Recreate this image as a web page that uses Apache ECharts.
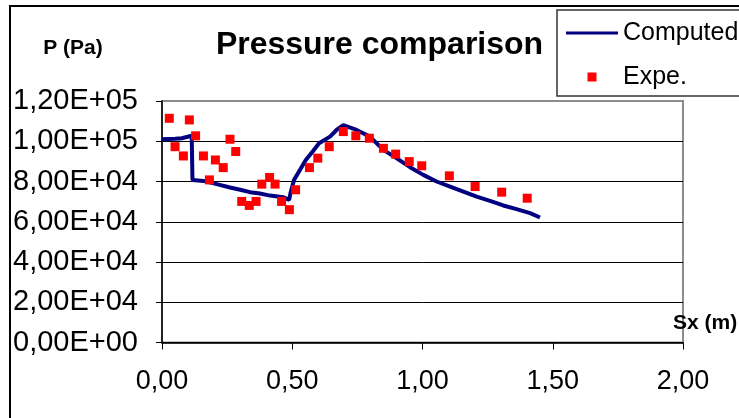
<!DOCTYPE html>
<html>
<head>
<meta charset="utf-8">
<script src="https://cdn.jsdelivr.net/npm/echarts@6/dist/echarts.min.js"></script>
<style>
  html, body { margin: 0; padding: 0; background: #fff; }
  #chart { width: 739px; height: 418px; }
</style>
</head>
<body>
<div id="chart"></div>
<script>
// Computed pressure along the duct (position in m, pressure in Pa)
const computedX = [0.00, 0.05, 0.076, 0.114, 0.117, 0.159, 0.21, 0.261, 0.30, 0.338, 0.376, 0.415, 0.465, 0.488,
  0.494, 0.507, 0.53, 0.552, 0.58, 0.603, 0.645, 0.67, 0.696, 0.747, 0.798, 0.85, 0.90, 0.952, 1.003, 1.054,
  1.106, 1.157, 1.208, 1.259, 1.31, 1.361, 1.413, 1.451];
const computedP = [101000, 101200, 101500, 102700, 80800, 80300, 78700, 77000, 75900, 74700, 74000, 73000, 72200, 70900,
  74700, 80800, 85800, 90700, 95200, 99000, 102300, 105600, 108000, 105600, 102300, 95700, 91600, 87100, 83300, 80000,
  77500, 75000, 72500, 70400, 68100, 66300, 64300, 62100];

// Experimental measurements
const expeX = [0.028, 0.105, 0.05, 0.082, 0.129, 0.159, 0.182, 0.205, 0.235, 0.261, 0.283, 0.306, 0.335, 0.361,
  0.383, 0.413, 0.434, 0.459, 0.489, 0.513, 0.566, 0.598, 0.642, 0.696, 0.744, 0.796, 0.85, 0.897, 0.949, 0.997,
  1.103, 1.202, 1.304, 1.402];
const expeP = [111400, 110600, 97300, 92700, 102700, 92700, 80800, 90700, 86900, 101000, 94900, 70100, 68100, 70100,
  78700, 82000, 78700, 70100, 66000, 75900, 86900, 91600, 97300, 104800, 102700, 101500, 96500, 93600, 89900, 87800,
  82800, 77500, 74700, 71700];

// Axis tick labels (decimal comma notation)
const xTickLabels = ['0,00', '0,50', '1,00', '1,50', '2,00'];
const yTickLabels = ['0,00E+00', '2,00E+04', '4,00E+04', '6,00E+04', '8,00E+04', '1,00E+05', '1,20E+05'];

const FONT = '"Liberation Sans", Arial, sans-serif';
const zip = (xs, ys) => xs.map((x, i) => [x, ys[i]]);

const chart = echarts.init(document.getElementById('chart'), null, { renderer: 'canvas' });

chart.setOption({
  animation: false,
  backgroundColor: '#fff',
  grid: {
    left: 162, right: 56, top: 101, bottom: 75.5,
    show: true, borderColor: '#8c8c8c', borderWidth: 2, backgroundColor: 'transparent'
  },
  graphic: [
    { type: 'rect', z: -10, silent: true,
      shape: { x: 10, y: 6, width: 900, height: 600 },
      style: { fill: 'none', stroke: '#000', lineWidth: 2 } },
    { type: 'text', silent: true,
      style: { text: 'Pressure comparison', x: 379.5, y: 45, align: 'center', verticalAlign: 'middle',
               font: 'bold 32px ' + FONT, fill: '#000' } },
    { type: 'text', silent: true,
      style: { text: 'P (Pa)', x: 73, y: 48, align: 'center', verticalAlign: 'middle',
               font: 'bold 21px ' + FONT, fill: '#000' } },
    { type: 'text', silent: true,
      style: { text: 'Sx (m)', x: 673, y: 323, align: 'left', verticalAlign: 'middle',
               font: 'bold 21px ' + FONT, fill: '#000' } }
  ],
  legend: {
    orient: 'vertical',
    left: 557, top: 10,
    padding: [8, 40, 4, 9],
    itemGap: 14,
    itemWidth: 52, itemHeight: 9,
    borderColor: '#333', borderWidth: 1.5,
    textStyle: { fontFamily: FONT, fontSize: 25, color: '#000', lineHeight: 30 },
    data: [
      { name: 'Computed', icon: 'path://M0,0M52,9M0,3h52v3h-52z' },
      { name: 'Expe.', icon: 'path://M0,0M52,9M21.5,0h9v9h-9z' }
    ]
  },
  xAxis: {
    type: 'value', min: 0, max: 2, interval: 0.5,
    axisLine: { show: true, onZero: false, lineStyle: { color: '#000', width: 1.5 } },
    axisTick: { show: true, inside: false, length: 7, lineStyle: { color: '#000', width: 1 } },
    splitLine: { show: false },
    axisLabel: {
      margin: 25, fontFamily: FONT, fontSize: 27, color: '#000', lineHeight: 28,
      formatter: v => xTickLabels[Math.round(v / 0.5)]
    }
  },
  yAxis: {
    type: 'value', min: 0, max: 120000, interval: 20000,
    axisLine: { show: true, onZero: false, lineStyle: { color: '#000', width: 1.5 } },
    axisTick: { show: true, inside: false, length: 6, lineStyle: { color: '#000', width: 1 } },
    splitLine: { show: true, showMaxLine: false, lineStyle: { color: '#000', width: 1 } },
    axisLabel: {
      margin: 24, fontFamily: FONT, fontSize: 29, color: '#000',
      formatter: v => yTickLabels[Math.round(v / 20000)]
    }
  },
  series: [
    {
      name: 'Computed', type: 'line',
      data: zip(computedX, computedP),
      symbol: 'none',
      color: '#000080',
      lineStyle: { color: '#000080', width: 4 },
      z: 3
    },
    {
      name: 'Expe.', type: 'scatter',
      data: zip(expeX, expeP),
      symbol: 'rect', symbolSize: 9,
      itemStyle: { color: '#ff0000', opacity: 1 },
      z: 4
    }
  ]
});
</script>
</body>
</html>
